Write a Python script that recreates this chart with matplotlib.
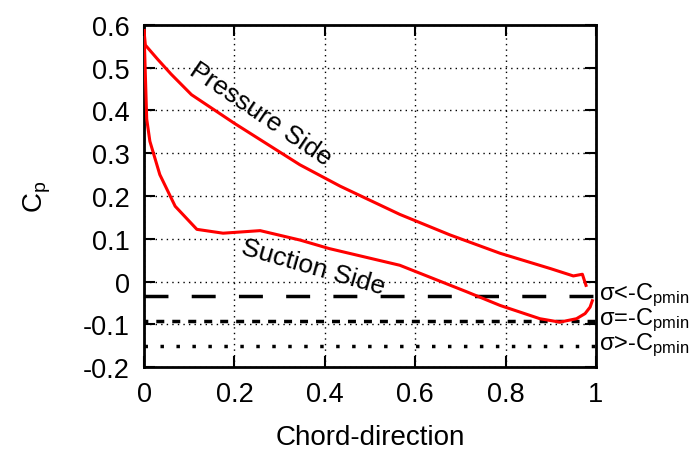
import numpy as np
import matplotlib.pyplot as plt

plt.rcParams['font.family'] = ['Liberation Sans', 'DejaVu Sans']
plt.rcParams['mathtext.fontset'] = 'custom'
plt.rcParams['mathtext.rm'] = 'Liberation Sans'
plt.rcParams['mathtext.it'] = 'Liberation Sans'

# pressure side Cp
x_pres = [0.0, 0.003, 0.03, 0.06, 0.105, 0.2, 0.345, 0.434, 0.566, 0.677, 0.788, 0.9, 0.95, 0.97, 0.978]
cp_pres = [0.587, 0.553, 0.52, 0.485, 0.437, 0.37, 0.273, 0.223, 0.157, 0.109, 0.066, 0.03, 0.013, 0.017, -0.009]

# suction side Cp
x_suc = [0.0, 0.006, 0.013, 0.035, 0.069, 0.117, 0.175, 0.257, 0.345, 0.41, 0.566, 0.714, 0.788, 0.876, 0.92, 0.957, 0.976, 0.987, 0.992]
cp_suc = [0.587, 0.38, 0.328, 0.25, 0.176, 0.122, 0.113, 0.119, 0.097, 0.077, 0.038, -0.024, -0.056, -0.087, -0.095, -0.087, -0.075, -0.06, -0.045]

# cavitation number levels
sigma_lvls = [-0.034, -0.093, -0.150]
sigma_lbls = [r'σ<-C$_{\rm pmin}$', r'σ=-C$_{\rm pmin}$', r'σ>-C$_{\rm pmin}$']

fig = plt.figure(figsize=(6.97, 4.52), dpi=100)
ax = fig.add_axes([0.2066, 0.1858, 0.6484, 0.7567])

ax.plot(x_pres, cp_pres, color='red', lw=2.2, zorder=3)
ax.plot(x_suc, cp_suc, color='red', lw=2.2, zorder=3)

styles = [(0, (6.9, 6.7)), (1.2, (2.3, 2.3)), (0, (1, 3.6))]
for lvl, ls, lbl in zip(sigma_lvls, styles, sigma_lbls):
    ax.axhline(lvl, color='black', lw=2.5, linestyle=ls, zorder=2)
    ax.text(1.006, lvl + 0.004, lbl, transform=ax.get_yaxis_transform(), fontsize=17,
            va='center', ha='left', clip_on=False)

ax.text(0.257, 0.392, 'Pressure Side', rotation=-34, fontsize=19,
        ha='center', va='center')
ax.text(0.374, 0.035, 'Suction Side', rotation=-16, fontsize=19,
        ha='center', va='center')

ax.set_xlim(0, 1)
ax.set_ylim(-0.2, 0.6)
ax.set_xticks([0, 0.2, 0.4, 0.6, 0.8, 1])
ax.set_xticklabels(['0', '0.2', '0.4', '0.6', '0.8', '1'])
ax.set_yticks(np.arange(-0.2, 0.61, 0.1))
ax.set_yticklabels(['-0.2', '-0.1', '0', '0.1', '0.2', '0.3', '0.4', '0.5', '0.6'])
ax.tick_params(direction='in', length=8, width=1.5, labelsize=19.5, top=True, right=True, pad=10)
ax.grid(True, color='black', linestyle=(0, (1, 3)), lw=1)
for s in ax.spines.values():
    s.set_linewidth(2)

ax.set_xlabel('Chord-direction', fontsize=20, labelpad=12)
ax.set_ylabel(r'C$_{\rm p}$', fontsize=20, labelpad=22)

plt.savefig('out.png')
